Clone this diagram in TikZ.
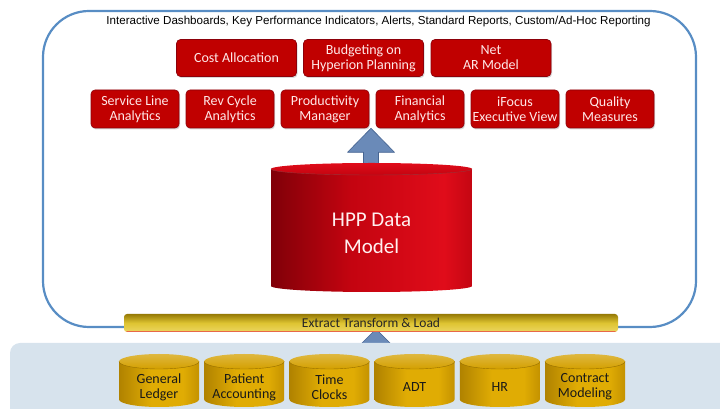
\documentclass[tikz,border=0pt]{standalone}
\usepackage{fontspec}
\setmainfont{Carlito}
\newfontfamily\arialfont{Liberation Sans}
\usepackage{tikz}
\usetikzlibrary{calc, positioning, shadows}
\definecolor{frameblue}{RGB}{88,141,196}
\definecolor{boxred}{RGB}{192,0,0}
\definecolor{boxrim}{RGB}{140,0,10}
\definecolor{boxtext}{RGB}{255,232,232}
\definecolor{hppdark}{RGB}{128,0,8}
\definecolor{hppmid}{RGB}{196,4,16}
\definecolor{hppbright}{RGB}{224,12,26}
\definecolor{hppedge}{RGB}{196,6,18}
\definecolor{arrowblue}{RGB}{106,138,184}
\definecolor{arrowrim}{RGB}{70,100,145}
\definecolor{etltop}{RGB}{150,122,6}
\definecolor{etlmid}{RGB}{222,196,50}
\definecolor{etlbot}{RGB}{236,214,96}
\definecolor{etlline}{RGB}{232,104,72}
\definecolor{panelblue}{RGB}{215,227,237}
\definecolor{golddark}{RGB}{176,130,0}
\definecolor{goldmid}{RGB}{224,172,4}
\definecolor{goldright}{RGB}{196,146,0}
\definecolor{goldtop}{RGB}{212,160,0}
\pgfdeclarehorizontalshading{hppbody}{100bp}{color(0bp)=(hppdark); color(25bp)=(hppdark); color(45bp)=(hppmid); color(68bp)=(hppbright); color(75bp)=(hppedge); color(100bp)=(hppedge)}
\pgfdeclarehorizontalshading{goldbody}{100bp}{color(0bp)=(golddark); color(25bp)=(golddark); color(45bp)=(goldmid); color(65bp)=(goldmid); color(75bp)=(goldright); color(100bp)=(goldright)}

\begin{document}
\begin{tikzpicture}[x=1pt, y=1pt, line cap=round, line join=round,
	redbox/.style={draw=boxrim, line width=0.6pt, fill=boxred, rounded corners=4pt, text=boxtext, align=center, inner sep=0pt, font=\fontsize{14}{15}\selectfont, drop shadow={opacity=0.3, shadow xshift=1pt, shadow yshift=-1.5pt}},
	toprow/.style={redbox, minimum width=120pt, minimum height=37pt},
	anarow/.style={redbox, minimum width=88pt, minimum height=38pt},
	srctext/.style={align=center, text=black!90, font=\fontsize{14}{15}\selectfont, inner sep=0pt},
	blockarrow/.style={fill=arrowblue, draw=arrowrim, line width=0.6pt}]
	\useasboundingbox (0,0) rectangle (720,409);
	
	% outer frame and report line
	\draw[frameblue, line width=2.2pt, rounded corners=46pt] (43,82) rectangle (696,398);
	\node[font=\arialfont\fontsize{11.6}{12}\selectfont, inner sep=0pt] (reports) at (378.5,387) {Interactive Dashboards, Key Performance Indicators, Alerts, Standard Reports, Custom/Ad-Hoc Reporting};
	
	% applications, first and second row
	\foreach \x/\nm/\txt in {236.5/cost/{Cost Allocation}, 363.5/budget/{Budgeting on\\Hyperion Planning}, 491/netar/{Net\\AR Model}}
		\node[toprow] (\nm) at (\x,351) {\txt};
	\foreach \x/\nm/\txt in {135/service/{Service Line\\Analytics}, 230/revcycle/{Rev Cycle\\Analytics}, 325/productivity/{Productivity\\Manager}, 420/financial/{Financial\\Analytics}, 515/ifocus/{iFocus\\Executive View}, 610/quality/{Quality\\Measures}}
		\node[anarow] (\nm) at (\x,300) {\txt};
	
	% arrow from the data model up to the applications
	\coordinate (uptip) at ($(productivity.south east)!0.5!(financial.south west)+(-1.5,0)$);
	\draw[blockarrow] (uptip) -- ++(23.5,-24) -- ++(-16,0) -- ++(0,-14) -- ++(-15,0) -- ++(0,14) -- ++(-16,0) -- cycle;
	
	% HPP data model cylinder
	\shade[shading=hppbody] (271,240) -- (271,123) arc[start angle=180, end angle=360, x radius=100.5, y radius=6] -- (472,240) -- cycle;
	\shade[top color=hppbright, bottom color=hppmid] (371.5,240) ellipse [x radius=100.5, y radius=6];
	\draw[hppdark!80, line width=0.4pt] (271,240) arc[start angle=180, end angle=360, x radius=100.5, y radius=6];
	\node[font=\fontsize{21}{27}\selectfont, text=white!94!red, align=center] (hpp) at (371.5,176) {HPP Data\\Model};
	
	% arrow from the sources up to the ETL bar
	\coordinate (etltip) at (376,80);
	\draw[blockarrow] (etltip) -- ++(16,-16) -- ++(-8,0) -- ++(0,-12) -- ++(-16,0) -- ++(0,12) -- ++(-8,0) -- cycle;
	
	% source panel
	\fill[panelblue, rounded corners=10pt] (10,-20) rectangle (740,66);
	
	% ETL bar
	\node[minimum width=494pt, minimum height=18pt, inner sep=0pt, rounded corners=3pt, top color=etltop, bottom color=etlbot, middle color=etlmid, text=black!85, font=\fontsize{13.5}{14}\selectfont] (etl) at (371,86) {Extract Transform \& Load};
	\draw[etlline, line width=1pt] ($(etl.south west)+(3,0.5)$) -- ($(etl.south east)+(-3,0.5)$);
	
	% source systems
	\foreach \x/\nm/\txt in {159/ledger/{General\\Ledger}, 244.2/patient/{Patient\\Accounting}, 329.4/clocks/{Time\\Clocks}, 414.6/adt/ADT, 499.8/hr/HR, 585/contract/{Contract\\Modeling}} {
		\shade[shading=goldbody] (\x-40,47.5) -- (\x-40,9.5) arc[start angle=180, end angle=360, x radius=40, y radius=7.5] -- (\x+40,47.5) -- cycle;
		\shade[top color=goldtop!75!white, bottom color=goldtop] (\x,47.5) ellipse [x radius=40, y radius=7.5];
		\draw[golddark!85!black, line width=0.4pt] (\x-40,47.5) arc[start angle=180, end angle=360, x radius=40, y radius=7.5];
		\node[srctext] (\nm) at (\x,22) {\txt};
	}
\end{tikzpicture}
\end{document}
